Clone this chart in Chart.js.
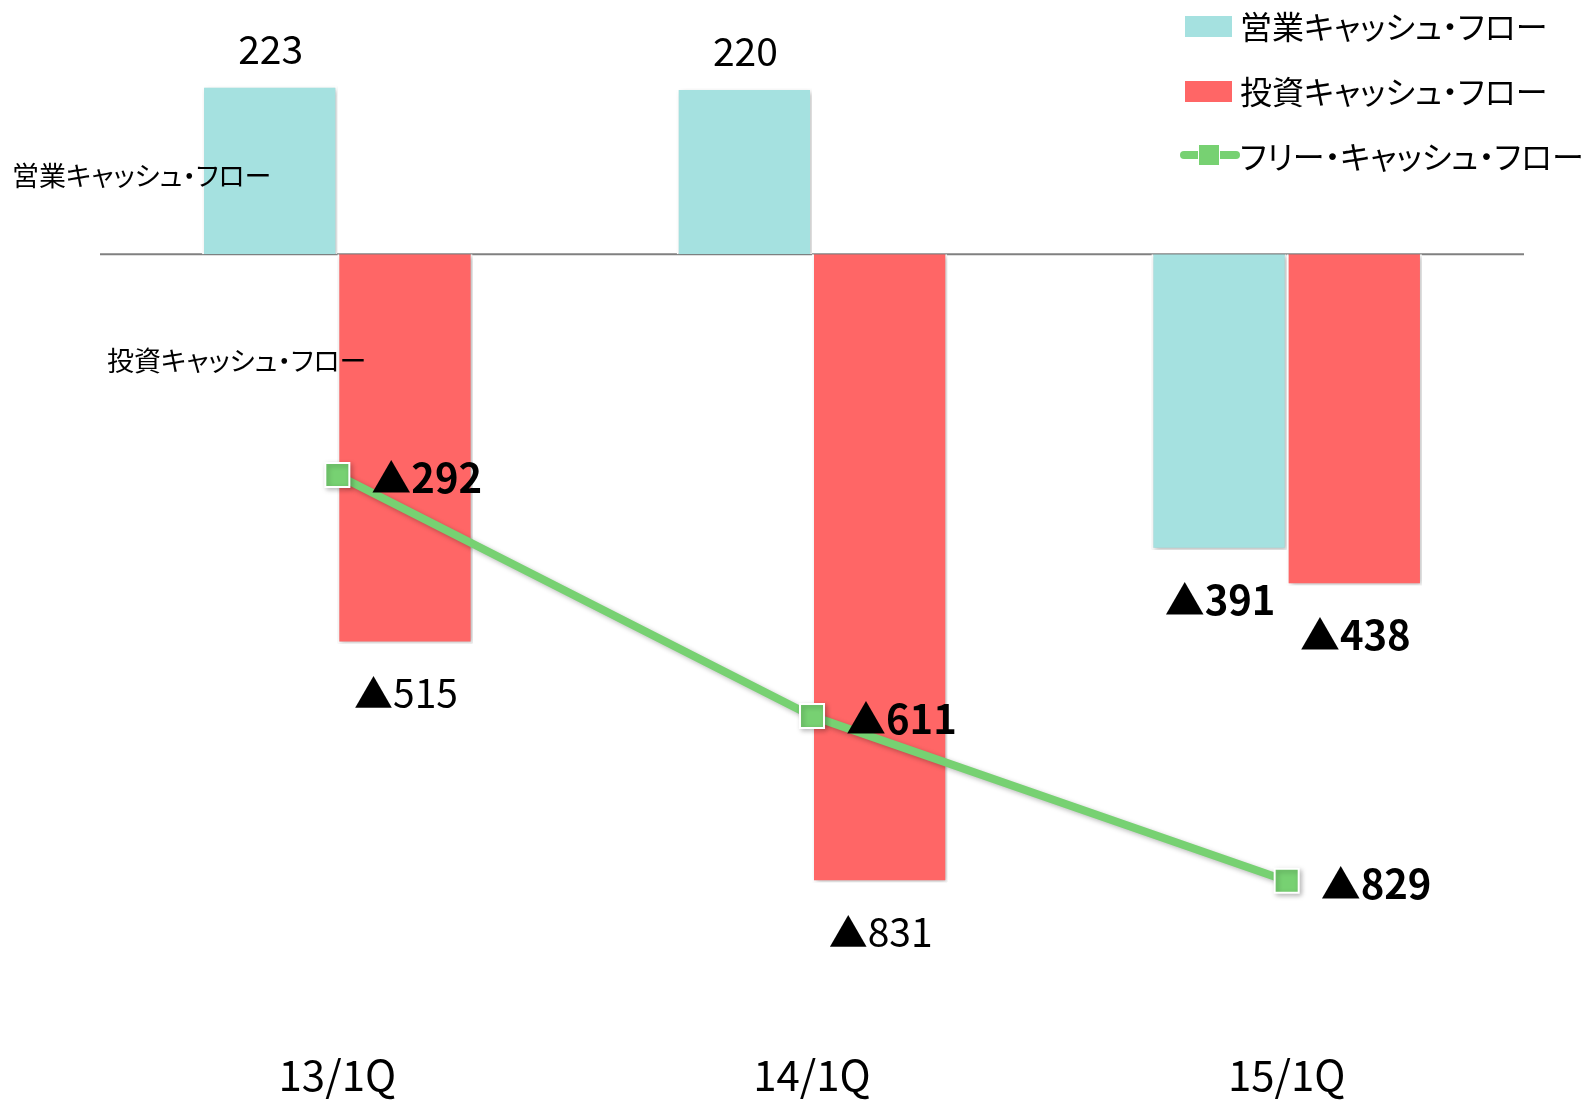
<!DOCTYPE html>
<html>
<head>
<meta charset="utf-8">
<script src="https://cdn.jsdelivr.net/npm/chart.js@4.4.1/dist/chart.umd.min.js"></script>
<style>
  html, body { margin:0; padding:0; background:#fff; overflow:hidden; }
  #wrap { position:relative; width:1588px; height:1108px; overflow:hidden; }
  canvas { position:absolute; left:0; top:0; }
  .jp { font-family:"Noto Sans CJK JP","Noto Sans",sans-serif; font-feature-settings:"palt"; color:#000; position:absolute; white-space:nowrap; line-height:1; }
  .leg { font-size:32px; }
  .ann { font-size:27px; }
  .sw { position:absolute; }
</style>
</head>
<body>
<div id="wrap">
  <canvas id="c" width="1588" height="1108"></canvas>
  <div class="sw" style="left:1185px;top:16px;width:47px;height:21px;background:#A5E1E0;"></div>
  <div class="jp leg" style="left:1240px;top:9px;">営業キャッシュ・フロー</div>
  <div class="sw" style="left:1185px;top:81px;width:47px;height:21px;background:#FF6666;"></div>
  <div class="jp leg" style="left:1240px;top:74px;">投資キャッシュ・フロー</div>
  <div class="sw" style="left:1180px;top:151px;width:60px;height:8px;border-radius:4px;background:#77D172;"></div>
  <div class="sw" style="left:1198px;top:144px;width:22px;height:22px;background:#77D172;border:1px solid #fff;box-sizing:border-box;"></div>
  <div class="jp leg" style="left:1240px;top:139px;">フリー・キャッシュ・フロー</div>
  <div class="jp ann" style="left:12px;top:161px;">営業キャッシュ・フロー</div>
  <div class="jp ann" style="left:107px;top:346px;">投資キャッシュ・フロー</div>
</div>
<script>
const categories = ["13/1Q", "14/1Q", "15/1Q"];
const operatingCF = [223, 220, -391];
const investingCF = [-515, -831, -438];
const freeCF = [-292, -611, -829];
const boldBarLabels = [false, false, true];

const FONT = '"Noto Sans CJK JP","Noto Sans",sans-serif';
function fmt(v) { return v < 0 ? "▲" + Math.abs(v) : String(v); }

const shadowPlugin = {
  id: 'shadow',
  beforeDatasetDraw(chart, args) {
    const ctx = chart.ctx;
    ctx.save();
    ctx.shadowColor = 'rgba(0,0,0,0.28)';
    ctx.shadowBlur = 5;
    ctx.shadowOffsetX = 2;
    ctx.shadowOffsetY = 2;
  },
  afterDatasetDraw(chart) { chart.ctx.restore(); }
};

const zeroLine = {
  id: 'zeroLine',
  beforeDatasetsDraw(chart) {
    const ctx = chart.ctx, a = chart.chartArea;
    const y = chart.scales.y.getPixelForValue(0);
    ctx.save();
    ctx.strokeStyle = '#808080';
    ctx.lineWidth = 2;
    ctx.beginPath();
    ctx.moveTo(a.left, y);
    ctx.lineTo(a.right, y);
    ctx.stroke();
    ctx.restore();
  }
};

const labelsPlugin = {
  id: 'valueLabels',
  afterDatasetsDraw(chart) {
    const ctx = chart.ctx;
    ctx.save();
    ctx.fillStyle = '#000';
    ctx.textBaseline = 'middle';
    [0, 1].forEach(di => {
      const meta = chart.getDatasetMeta(di);
      const vals = chart.data.datasets[di].data;
      meta.data.forEach((el, i) => {
        const v = vals[i];
        ctx.font = (boldBarLabels[i] ? 'bold 40px ' : '39px ') + FONT;
        ctx.textAlign = 'center';
        const y = v >= 0 ? el.y - 37 : el.y + 50;
        ctx.fillText(fmt(v), el.x + 1, y);
      });
    });
    const lm = chart.getDatasetMeta(2);
    lm.data.forEach((el, i) => {
      ctx.font = 'bold 40px ' + FONT;
      ctx.textAlign = 'left';
      ctx.fillText(fmt(freeCF[i]), el.x + 34, el.y + 3);
    });
    ctx.restore();
  }
};

new Chart(document.getElementById('c'), {
  type: 'bar',
  data: {
    labels: categories,
    datasets: [
      { label: '営業キャッシュ・フロー', data: operatingCF, backgroundColor: '#A5E1E0', borderColor: '#ffffff', borderWidth: 2, order: 2, categoryPercentage: 0.57, barPercentage: 1.0 },
      { label: '投資キャッシュ・フロー', data: investingCF, backgroundColor: '#FF6666', borderColor: '#ffffff', borderWidth: 2, order: 2, categoryPercentage: 0.57, barPercentage: 1.0 },
      { type: 'line', label: 'フリー・キャッシュ・フロー', data: freeCF, borderColor: '#77D172', backgroundColor: '#77D172', borderWidth: 8, pointStyle: 'rect', pointRadius: 17, pointBorderColor: '#ffffff', pointBorderWidth: 2, pointBackgroundColor: '#77D172', order: 0, tension: 0 }
    ]
  },
  options: {
    responsive: false,
    animation: false,
    devicePixelRatio: 1,
    layout: { padding: { left: 100, right: 64, top: 20, bottom: 0 } },
    plugins: { legend: { display: false }, tooltip: { enabled: false } },
    scales: {
      x: {
        grid: { display: false, drawTicks: false },
        border: { display: false },
        ticks: { color: '#000', font: { family: FONT, size: 42 }, padding: 40, maxRotation: 0 },
        afterFit(scale) { scale.height = 98; }
      },
      y: {
        display: false,
        min: -1000,
        max: 310
      }
    }
  },
  plugins: [zeroLine, shadowPlugin, labelsPlugin]
});
</script>
</body>
</html>
